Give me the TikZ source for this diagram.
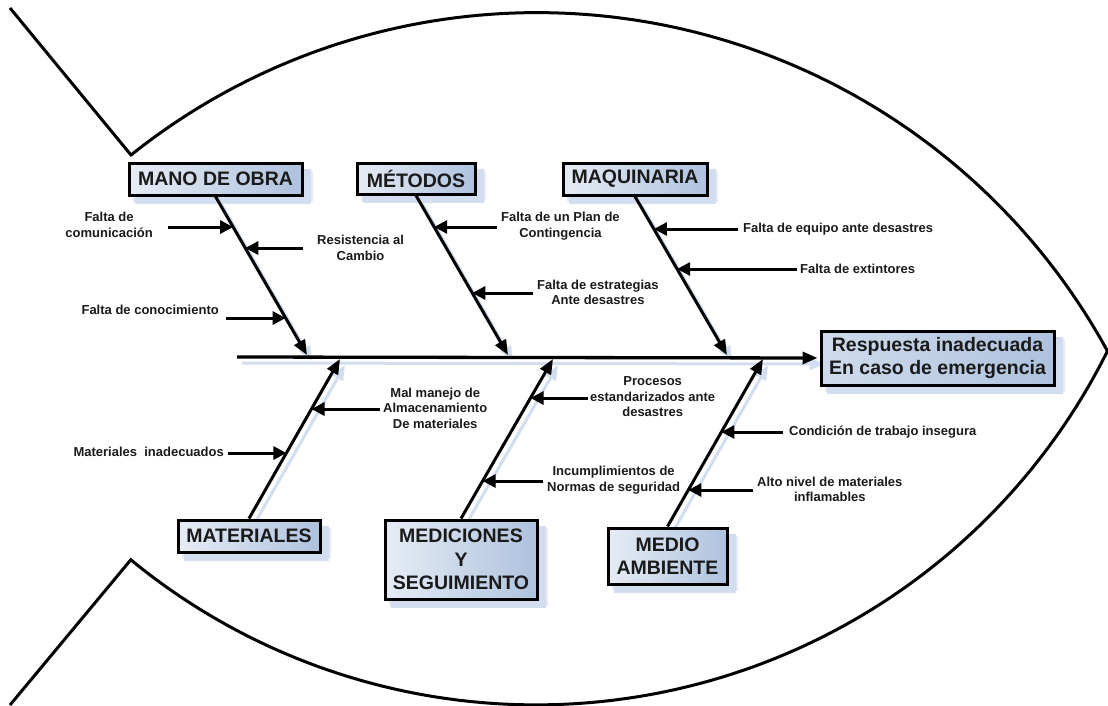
\documentclass[tikz,border=0pt]{standalone}
\usepackage{fontspec}
\setmainfont{Liberation Sans}
\usetikzlibrary{arrows.meta,calc}
\definecolor{boxlight}{HTML}{E6ECF5}
\definecolor{boxdark}{HTML}{AEC2DE}
\definecolor{resplight}{HTML}{CFDBEC}
\definecolor{shadowblue}{HTML}{D2DEF0}
\definecolor{txt}{HTML}{1A1A1A}
\pgfdeclarelayer{background}
\pgfsetlayers{background,main}
\begin{document}
\begin{tikzpicture}[x=1pt,y=-1pt,
  catbox/.style={draw=black, line width=3pt, left color=boxlight, right color=boxdark,
    font=\fontsize{19.5}{23.5}\selectfont\bfseries, text=txt, align=center, inner sep=0pt},
  lbl/.style={font=\fontsize{13}{15.5}\selectfont\bfseries, text=txt, align=center, inner sep=0pt},
  bone/.style={line width=3pt, -{Triangle[length=15pt,width=12pt]}},
  sub/.style={line width=3pt, -{Triangle[length=13pt,width=13pt]}},
  shadowline/.style={line width=3pt, draw=shadowblue, -{Triangle[length=15pt,width=12pt]}},
  fish/.style={line width=3pt, line join=miter}]
\useasboundingbox (0,0) rectangle (1108,706);

% fish outline
\draw[fish] (10,8) -- (131,155)
  -- plot[domain=-128.65:-28.74,samples=150] ({537+650*cos(\x)},{662.6+650*sin(\x)})
  -- plot[domain=26.57:129.4,samples=150] ({536+638.4*cos(\x)},{66.5+638.4*sin(\x)})
  -- (10,705);

% category boxes
\node[catbox, minimum width=173pt, minimum height=32pt] (mano) at (215.5,179) {MANO DE OBRA};
\node[catbox, minimum width=118pt, minimum height=31pt] (met) at (416,178.5) {MÉTODOS};
\node[catbox, minimum width=144pt, minimum height=32pt] (maq) at (635,179) {MAQUINARIA};
\node[catbox, minimum width=142pt, minimum height=32pt] (mat) at (249,536) {MATERIALES};
\node[catbox, minimum width=152pt, minimum height=79pt] (med) at (461,559.5) {MEDICIONES\\Y\\SEGUIMIENTO};
\node[catbox, minimum width=119pt, minimum height=56pt] (amb) at (667.5,556) {MEDIO\\AMBIENTE};
\node[catbox, left color=resplight, minimum width=233pt, minimum height=54pt, font=\fontsize{19.5}{23}\selectfont\bfseries] (resp) at (937.5,358) {Respuesta inadecuada\\En caso de emergencia};

% spine and bone ends
\coordinate (sp0) at (237,357);
\coordinate (s1) at (307,355);
\coordinate (s2) at (508,355);
\coordinate (s3) at (727,355);
\coordinate (s4) at (340,359);
\coordinate (s5) at (553,359);
\coordinate (s6) at (763,359);

% shadows
\begin{pgfonlayer}{background}
  \foreach \b in {mano,met,maq,mat,med,amb,resp}{
    \fill[shadowblue!60] ([shift={(5,5)}]\b.south west) rectangle ([shift={(9,9)}]\b.north east);
    \fill[shadowblue] ([shift={(7,7)}]\b.south west) rectangle ([shift={(7,7)}]\b.north east);}
  \draw[shadowline] ([shift={(5,6)}]sp0) -- ([shift={(5,6)}]resp.west);
  \draw[shadowline] ([shift={(5,6)}]mano.south) -- ([shift={(5,6)}]s1);
  \draw[shadowline] ([shift={(5,6)}]met.south) -- ([shift={(5,6)}]s2);
  \draw[shadowline] ([shift={(5,6)}]maq.south) -- ([shift={(5,6)}]s3);
  \draw[shadowline] ([shift={(5,6)}]mat.north) -- ([shift={(5,6)}]s4);
  \draw[shadowline] ([shift={(5,6)}]med.north) -- ([shift={(5,6)}]s5);
  \draw[shadowline] ([shift={(5,6)}]amb.north) -- ([shift={(5,6)}]s6);
\end{pgfonlayer}

\draw[bone, line width=3.3pt, shorten >=2pt] (sp0) -- (resp.west);
\draw[bone] (mano.south) -- (s1);
\draw[bone] (met.south) -- (s2);
\draw[bone] (maq.south) -- (s3);
\draw[bone] (mat.north) -- (s4);
\draw[bone] (med.north) -- (s5);
\draw[bone] (amb.north) -- (s6);

% arrow tips on the bones
\coordinate (t1) at (intersection of mano.south--s1 and 0,227--100,227);
\coordinate (t2) at (intersection of mano.south--s1 and 0,318--100,318);
\coordinate (t4) at (intersection of mano.south--s1 and 0,248--100,248);
\coordinate (t5) at (intersection of met.south--s2 and 0,227--100,227);
\coordinate (t6) at (intersection of met.south--s2 and 0,293--100,293);
\coordinate (t7) at (intersection of maq.south--s3 and 0,229--100,229);
\coordinate (t8) at (intersection of maq.south--s3 and 0,269--100,269);
\coordinate (t3) at (intersection of mat.north--s4 and 0,453--100,453);
\coordinate (t9) at (intersection of mat.north--s4 and 0,409--100,409);
\coordinate (t10) at (intersection of med.north--s5 and 0,398--100,398);
\coordinate (t11) at (intersection of med.north--s5 and 0,481--100,481);
\coordinate (t12) at (intersection of amb.north--s6 and 0,432--100,432);
\coordinate (t13) at (intersection of amb.north--s6 and 0,490--100,490);

% labels
\node[lbl, anchor=east] (l1) at (153,225) {Falta de\\comunicación};
\node[lbl, anchor=east] (l2) at (219,310) {Falta de conocimiento};
\node[lbl, anchor=east] (l3) at (224,452) {Materiales\ \ inadecuados};
\node[lbl, anchor=west] (l4) at (317,248) {Resistencia al\\Cambio};
\node[lbl, anchor=west] (l5) at (501,226) {Falta de un Plan de\\Contingencia};
\node[lbl, anchor=west] (l6) at (537,292.5) {Falta de estrategias\\Ante desastres};
\node[lbl, anchor=west] (l7) at (743,229) {Falta de equipo ante desastres};
\node[lbl, anchor=west] (l8) at (800,269) {Falta de extintores};
\node[lbl, anchor=west] (l9) at (383,408) {Mal manejo de\\Almacenamiento\\De materiales};
\node[lbl, anchor=west] (l10) at (590,397) {Procesos\\estandarizados ante\\desastres};
\node[lbl, anchor=west] (l11) at (547,480) {Incumplimientos de\\Normas de seguridad};
\node[lbl, anchor=west] (l12) at (789,432) {Condición de trabajo insegura};
\node[lbl, anchor=west] (l13) at (757,489.5) {Alto nivel de materiales\\inflamables};

% cause arrows
\draw[sub] ($(l1.east |- t1)+(15,0)$) -- (t1);
\draw[sub] ($(l2.east |- t2)+(7,0)$) -- (t2);
\draw[sub] ($(l3.east |- t3)+(4,0)$) -- (t3);
\draw[sub] ($(l4.west |- t4)+(-14,0)$) -- (t4);
\draw[sub] ($(l5.west |- t5)+(-4,0)$) -- (t5);
\draw[sub] ($(l6.west |- t6)+(-4,0)$) -- (t6);
\draw[sub] ($(l7.west |- t7)+(-5,0)$) -- (t7);
\draw[sub] ($(l8.west |- t8)+(-3,0)$) -- (t8);
\draw[sub] ($(l9.west |- t9)+(-3,0)$) -- (t9);
\draw[sub] ($(l10.west |- t10)+(-2,0)$) -- (t10);
\draw[sub] ($(l11.west |- t11)+(-4,0)$) -- (t11);
\draw[sub] ($(l12.west |- t12)+(-6,0)$) -- (t12);
\draw[sub] ($(l13.west |- t13)+(-4,0)$) -- (t13);
\end{tikzpicture}
\end{document}
